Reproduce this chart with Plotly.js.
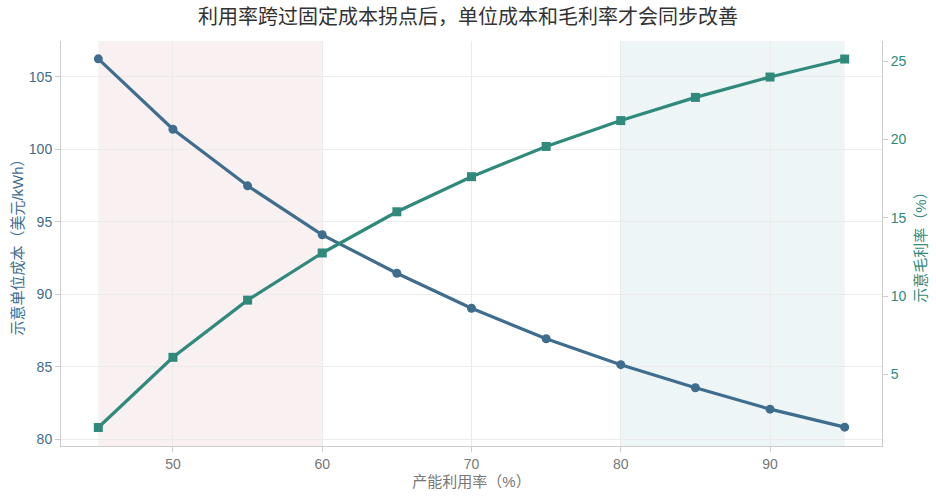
<!DOCTYPE html>
<html><head><meta charset="utf-8">
<script src="https://cdn.plot.ly/plotly-3.0.1.min.js"></script>
<style>html,body{margin:0;padding:0;background:#fff}#c{width:936px;height:498px}</style>
</head><body><div id="c"></div>
<script>
const utilization = [45, 50, 55, 60, 65, 70, 75, 80, 85, 90, 95];
const unitCost = [106.24, 101.38, 97.48, 94.10, 91.45, 89.03, 86.93, 85.14, 83.55, 82.07, 80.83];
const grossMargin = [1.61, 6.09, 9.74, 12.75, 15.38, 17.62, 19.55, 21.20, 22.68, 23.98, 25.13];
const lowZone = [45, 60];
const highZone = [80, 95];
const xTicks = [50, 60, 70, 80, 90];
const yLeftTicks = [80, 85, 90, 95, 100, 105];
const yRightTicks = [5, 10, 15, 20, 25];

const blue = '#3f6d8e';
const green = '#2f8a7c';
const font = '"Liberation Sans", Arial, "Noto Sans CJK SC", sans-serif';

const traces = [
  {x: utilization, y: unitCost, type: 'scatter', mode: 'lines+markers', yaxis: 'y',
   line: {color: blue, width: 3.2}, marker: {color: blue, size: 9, symbol: 'circle'}, showlegend: false},
  {x: utilization, y: grossMargin, type: 'scatter', mode: 'lines+markers', yaxis: 'y2',
   line: {color: green, width: 3.2}, marker: {color: green, size: 9, symbol: 'square'}, showlegend: false}
];

const layout = {
  width: 936, height: 498,
  margin: {l: 61, r: 54, t: 41, b: 52},
  paper_bgcolor: '#fff', plot_bgcolor: '#fff',
  font: {family: font, size: 14, color: '#666'},
  title: {text: '利用率跨过固定成本拐点后，单位成本和毛利率才会同步改善', x: 0.5, xanchor: 'center', y: 0.965, yanchor: 'middle',
          font: {family: font, size: 20, color: '#333'}},
  xaxis: {range: [42.5, 97.5], tickvals: xTicks, ticks: 'outside', ticklen: 5, tickcolor: '#ccc',
          showline: true, linecolor: '#ccc', linewidth: 1, mirror: false, zeroline: false,
          showgrid: true, gridcolor: '#ebebeb', gridwidth: 1,
          tickfont: {size: 14, color: '#777'},
          title: {text: '产能利用率（%）', font: {size: 15, color: '#777'}, standoff: 5}},
  yaxis: {range: [79.53, 107.47], tickvals: yLeftTicks, ticks: 'outside', ticklen: 5, tickcolor: '#ccc',
          showline: true, linecolor: '#ccc', zeroline: false, showgrid: true, gridcolor: '#ebebeb',
          tickfont: {size: 14, color: blue},
          title: {text: '示意单位成本（美元/kWh）', font: {size: 15, color: blue}, standoff: 1}},
  yaxis2: {range: [0.43, 26.28], tickvals: yRightTicks, overlaying: 'y', side: 'right', ticks: 'outside', ticklen: 5,
          tickcolor: '#ccc', showline: true, linecolor: '#ccc', zeroline: false, showgrid: false,
          tickfont: {size: 14, color: green},
          title: {text: '示意毛利率（%）', font: {size: 15, color: green}, standoff: 9}},
  shapes: [
    {type: 'rect', xref: 'x', yref: 'paper', x0: lowZone[0], x1: lowZone[1], y0: 0, y1: 1,
     fillcolor: '#f8f0f1', line: {width: 0}, layer: 'below'},
    {type: 'rect', xref: 'x', yref: 'paper', x0: highZone[0], x1: highZone[1], y0: 0, y1: 1,
     fillcolor: '#edf5f6', line: {width: 0}, layer: 'below'}
  ]
};
Plotly.newPlot('c', traces, layout, {displayModeBar: false, staticPlot: true});
</script></body></html>
